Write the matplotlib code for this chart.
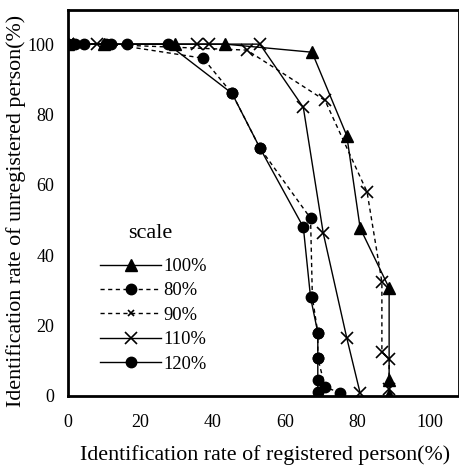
import matplotlib
matplotlib.use('Agg')
import matplotlib.pyplot as plt

# identification rate of registered person (%), unregistered person (%)
x_100 = [0, 10, 29.6, 43.4, 67.4, 77, 80.7, 88.7, 88.7, 88.7]
y_100 = [100, 100, 100, 100, 97.7, 74, 47.7, 30.7, 4.5, 0.3]

x_80 = [0, 2, 12, 37.3, 45.3, 53, 67, 67.5, 69, 69, 71, 75]
y_80 = [100, 100, 100, 96, 86, 70.5, 50.5, 28, 18, 10.8, 2.6, 0.9]

x_90 = [0, 8, 49.4, 71, 82.6, 86.7, 86.7, 88.7, 88.7]
y_90 = [100, 100, 98.3, 84, 58, 32.4, 12.5, 10.5, 2]

x_110 = [0, 35.6, 39, 53, 65, 70.5, 77, 80.7]
y_110 = [100, 100, 100, 100, 82, 46.3, 16.5, 0.8]

x_120 = [0, 4.5, 10.5, 16.3, 27.6, 45.3, 53, 65, 67, 69, 69, 69, 69]
y_120 = [100, 100, 100, 100, 100, 86, 70.5, 48, 28, 18, 10.8, 4.5, 1]

plt.rcParams['font.family'] = ['Liberation Serif', 'DejaVu Serif']

fig = plt.figure(figsize=(4.6, 4.66), dpi=100)
ax = fig.add_axes([68 / 460, 70 / 466, 391 / 460, 386 / 466])

lw = 1.0
dash = (0, (3, 2.5))
ax.plot(x_100, y_100, color='black', lw=lw, marker='^', ms=8.5, label='100%')
ax.plot(x_80, y_80, color='black', lw=lw, ls=dash, marker='o', ms=7.5, label='80%')
ax.plot(x_90, y_90, color='black', lw=lw, ls=dash, marker='x', ms=8, mew=1.2, label='90%')
ax.plot(x_110, y_110, color='black', lw=lw, marker='x', ms=8, mew=1.2, label='110%')
ax.plot(x_120, y_120, color='black', lw=lw, marker='o', ms=7.5, label='120%')

ax.set_xlim(0, 108)
ax.set_ylim(0, 109.7)
ax.set_xticks([0, 20, 40, 60, 80, 100])
ax.set_yticks([0, 20, 40, 60, 80, 100])
ax.tick_params(length=0, labelsize=13)
ax.tick_params(axis='x', pad=13)
ax.tick_params(axis='y', pad=10)
for side in ['left', 'top', 'bottom']:
    ax.spines[side].set_linewidth(2.0)
ax.spines['right'].set_linewidth(1.3)

ax.set_xlabel('Identification rate of registered person(%)', fontsize=15.8)
ax.set_ylabel('Identification rate of unregistered person(%)', fontsize=15.8)
ax.xaxis.set_label_coords(0.504, -0.127)
ax.yaxis.set_label_coords(-0.107, 0.479)

# legend title drawn separately so the gap below it matches
ax.text(0.21, 0.422, 'scale', transform=ax.transAxes, fontsize=16,
        ha='center', va='center')
leg = ax.legend(loc='upper left', bbox_to_anchor=(0.05, 0.391), frameon=False,
                fontsize=13.3, handlelength=3.3, handletextpad=0.1,
                labelspacing=0.4, borderpad=0.2)
leg.legend_handles[2].set_markersize(5)

fig.savefig('out.png', dpi=100)
